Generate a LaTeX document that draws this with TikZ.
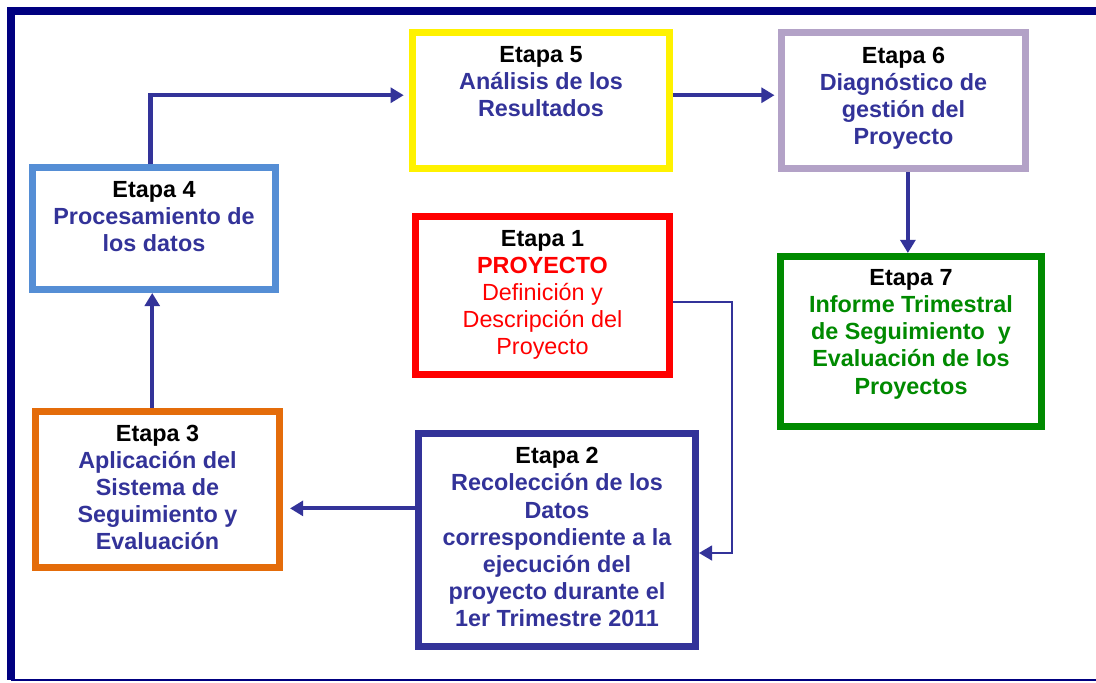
\documentclass[tikz,border=0pt]{standalone}
\usepackage{fontspec}
\setmainfont{Liberation Sans}
\usepackage{xcolor}
\usetikzlibrary{positioning,arrows.meta}

\definecolor{navy}{HTML}{333399}
\definecolor{marco}{HTML}{000080}
\definecolor{azulcaja}{HTML}{558ED5}
\definecolor{lila}{HTML}{B3A2C7}
\definecolor{verde}{HTML}{008A00}
\definecolor{naranja}{HTML}{E46C0A}

\begin{document}
\begin{tikzpicture}[x=0.02cm,y=-0.02cm,
  caja/.style={draw,line width=4pt,fill=white,inner sep=0pt},
  texto/.style={align=center,inner sep=0pt,font=\fontsize{13.3}{15.4}\selectfont\bfseries},
  flecha/.style={navy,line width=2.3pt,-{Triangle[length=7.5pt,width=8.5pt]}}]
\useasboundingbox (0,0) rectangle (1096,683);

% marco
\draw[marco,line width=4.5pt] (1100,11) -- (11,11) -- (11,680);
\draw[marco,line width=1.2pt] (11,680) -- (1100,680);

% cajas
\node[caja,draw=azulcaja,minimum width=4.86cm,minimum height=2.44cm] (e4) at (154,228.5) {};
\node[caja,draw=yellow,minimum width=5.14cm,minimum height=2.72cm] (e5) at (541,100.5) {};
\node[caja,draw=lila,minimum width=4.88cm,minimum height=2.72cm] (e6) at (903.5,100.5) {};
\node[caja,draw=verde,minimum width=5.22cm,minimum height=3.4cm] (e7) at (911,341.5) {};
\node[caja,draw=red,minimum width=5.08cm,minimum height=3.16cm] (e1) at (542.5,295.5) {};
\node[caja,draw=navy,minimum width=5.54cm,minimum height=4.26cm] (e2) at (557,540) {};
\node[caja,draw=naranja,minimum width=4.88cm,minimum height=3.12cm] (e3) at (157.5,489.5) {};

\node[texto,below=9.8pt of e4.north] (t4) {Etapa 4\\\color{navy}Procesamiento de\\\color{navy}los datos};
\node[texto,below=9.8pt of e5.north] (t5) {Etapa 5\\\color{navy}Análisis de los\\\color{navy}Resultados};
\node[texto,below=10.2pt of e6.north] (t6) {Etapa 6\\\color{navy}Diagnóstico de\\\color{navy}gestión del\\\color{navy}Proyecto};
\node[texto,below=9.3pt of e7.north] (t7) {Etapa 7\\\color{verde}Informe Trimestral\\\color{verde}de Seguimiento\ \ y\\\color{verde}Evaluación de los\\\color{verde}Proyectos};
\node[texto,below=9.8pt of e1.north] (t1) {Etapa 1\\\color{red}PROYECTO\\\color{red}\mdseries Definición y\\\color{red}\mdseries Descripción del\\\color{red}\mdseries Proyecto};
\node[texto,below=9.8pt of e2.north] (t2) {Etapa 2\\\color{navy}Recolección de los\\\color{navy}Datos\\\color{navy}correspondiente a la\\\color{navy}ejecución del\\\color{navy}proyecto durante el\\\color{navy}1er Trimestre 2011};
\node[texto,below=9.3pt of e3.north] (t3) {Etapa 3\\\color{navy}Aplicación del\\\color{navy}Sistema de\\\color{navy}Seguimiento y\\\color{navy}Evaluación};

% flechas
\draw[flecha] ([xshift=-2pt]e4.north) |- ([yshift=3pt,xshift=-3pt]e5.west);
\draw[flecha] ([yshift=3pt]e5.east) -- ([yshift=3pt,xshift=-2pt]e6.west);
\draw[flecha] ([xshift=2.5pt]e6.south) -- ([xshift=2.5pt]e6.south |- e7.north);
\draw[flecha,line width=1.2pt] ([yshift=-3.7pt]e1.east) -- ++(59,0) |- ([yshift=-7.4pt]e2.east);
\draw[flecha] ([yshift=18pt]e2.west) -- ([yshift=18pt,xshift=4pt]e2.west -| e3.east);
\draw[flecha] ([xshift=-3pt]e3.north) -- ([xshift=-3pt]e3.north |- e4.south);
\end{tikzpicture}
\end{document}
